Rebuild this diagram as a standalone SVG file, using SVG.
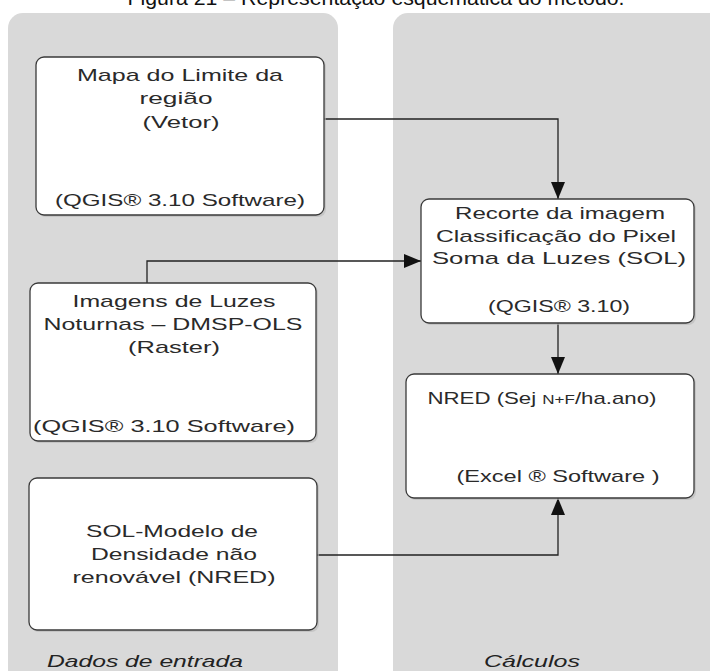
<svg xmlns="http://www.w3.org/2000/svg" width="710" height="671" viewBox="0 0 710 671">
  <defs>
    <style>
      .panel { fill: #d9d9d9; }
      .box { fill: #ffffff; stroke: #3a3a3a; stroke-width: 1.3; }
      .shadow { fill: #b8b8b8; opacity: 0.6; }
      .t { font-family: "Liberation Sans", Arial, sans-serif; font-size: 17px; fill: #2a2a2a; text-anchor: middle; }
      .lane { font-family: "Liberation Sans", Arial, sans-serif; font-size: 17px; font-style: italic; fill: #222; }
      .title { font-family: "Liberation Sans", Arial, sans-serif; font-size: 21px; fill: #111; text-anchor: middle; }
      .edge { fill: none; stroke: #222; stroke-width: 1.3; }
    </style>
    <marker id="arrow" markerUnits="userSpaceOnUse" markerWidth="18" markerHeight="14" refX="17" refY="7" orient="auto">
      <path d="M0,0 L17,7 L0,14 Z" fill="#111"/>
    </marker>
  </defs>

  <rect width="710" height="671" fill="#ffffff"/>

  <!-- figure caption, running off the top edge -->
  <text class="title" x="376" y="5" textLength="497" lengthAdjust="spacingAndGlyphs">Figura 21 – Representação esquemática do método.</text>

  <!-- lanes -->
  <g id="lane-entrada">
    <rect class="panel" x="8" y="13" width="330" height="680" rx="15"/>
    <text class="lane" x="47" y="667" textLength="196" lengthAdjust="spacingAndGlyphs">Dados de entrada</text>
  </g>
  <g id="lane-calculos">
    <rect class="panel" x="393" y="13" width="340" height="680" rx="15"/>
    <text class="lane" x="484" y="667" textLength="96" lengthAdjust="spacingAndGlyphs">Cálculos</text>
  </g>

  <!-- connectors -->
  <g id="connectors">
    <path class="edge" d="M324,119 H558 V199" marker-end="url(#arrow)"/>
    <path class="edge" d="M147,283 V261 H421" marker-end="url(#arrow)"/>
    <path class="edge" d="M558,323 V374" marker-end="url(#arrow)"/>
    <path class="edge" d="M317,555 H558 V498" marker-end="url(#arrow)"/>
  </g>

  <!-- input nodes -->
  <g id="mapa-limite">
    <rect class="shadow" x="38" y="59" width="288" height="158" rx="8"/>
    <rect class="box" x="36" y="57" width="288" height="158" rx="8"/>
    <text class="t" x="180" y="81" textLength="206" lengthAdjust="spacingAndGlyphs">Mapa do Limite da</text>
    <text class="t" x="176" y="104" textLength="73" lengthAdjust="spacingAndGlyphs">região</text>
    <text class="t" x="181" y="128" textLength="77" lengthAdjust="spacingAndGlyphs">(Vetor)</text>
    <text class="t" x="180" y="206" textLength="250" lengthAdjust="spacingAndGlyphs">(QGIS® 3.10  Software)</text>
  </g>

  <g id="imagens-luzes">
    <rect class="shadow" x="32" y="285" width="286" height="158" rx="8"/>
    <rect class="box" x="30" y="283" width="286" height="158" rx="8"/>
    <text class="t" x="174" y="307" textLength="203" lengthAdjust="spacingAndGlyphs">Imagens de Luzes</text>
    <text class="t" x="173" y="330" textLength="259" lengthAdjust="spacingAndGlyphs">Noturnas – DMSP-OLS</text>
    <text class="t" x="174" y="353" textLength="92" lengthAdjust="spacingAndGlyphs">(Raster)</text>
    <text class="t" x="164" y="432" textLength="262" lengthAdjust="spacingAndGlyphs">(QGIS® 3.10 Software)</text>
  </g>

  <g id="sol-modelo">
    <rect class="shadow" x="31" y="480" width="288" height="152" rx="8"/>
    <rect class="box" x="29" y="478" width="288" height="152" rx="8"/>
    <text class="t" x="172" y="537" textLength="172" lengthAdjust="spacingAndGlyphs">SOL-Modelo de</text>
    <text class="t" x="174" y="560" textLength="166" lengthAdjust="spacingAndGlyphs">Densidade não</text>
    <text class="t" x="174" y="583" textLength="203" lengthAdjust="spacingAndGlyphs">renovável (NRED)</text>
  </g>

  <!-- processing nodes -->
  <g id="recorte">
    <rect class="shadow" x="423" y="201" width="273" height="124" rx="8"/>
    <rect class="box" x="421" y="199" width="273" height="124" rx="8"/>
    <text class="t" x="560" y="219" textLength="210" lengthAdjust="spacingAndGlyphs">Recorte da imagem</text>
    <text class="t" x="556" y="242" textLength="240" lengthAdjust="spacingAndGlyphs">Classificação do Pixel</text>
    <text class="t" x="559" y="264" textLength="254" lengthAdjust="spacingAndGlyphs">Soma da Luzes  (SOL)</text>
    <text class="t" x="559" y="312" textLength="142" lengthAdjust="spacingAndGlyphs">(QGIS® 3.10)</text>
  </g>

  <g id="nred">
    <rect class="shadow" x="408" y="376" width="288" height="124" rx="8"/>
    <rect class="box" x="406" y="374" width="288" height="124" rx="8"/>
    <text class="t" x="542" y="404" textLength="229" lengthAdjust="spacingAndGlyphs">NRED (Sej <tspan font-size="13">N+F</tspan>/ha.ano)</text>
    <text class="t" x="558" y="482" textLength="203" lengthAdjust="spacingAndGlyphs">(Excel ® Software )</text>
  </g>
</svg>
